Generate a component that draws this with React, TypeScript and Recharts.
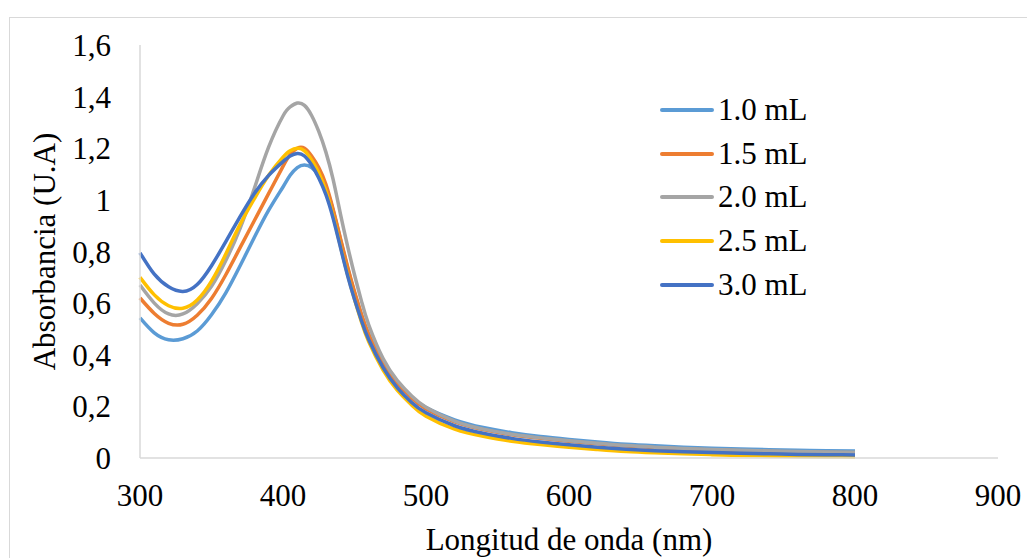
import { Legend, Line, LineChart, XAxis, YAxis } from "recharts";

const WAVELENGTHS = [
  300, 310, 320, 330, 340, 350, 360, 370, 380, 390, 400, 405, 410, 415, 420, 425, 430, 435, 440, 445, 450,
  455, 460, 470, 480, 490, 500, 520, 540, 560, 580, 600, 620, 640, 660, 680, 700, 720, 740, 760, 780, 800,
];

const ML_10 = [
  0.543, 0.485, 0.458, 0.462, 0.492, 0.555, 0.64, 0.745, 0.855, 0.96, 1.05, 1.095, 1.125, 1.135, 1.125, 1.095,
  1.045, 0.96, 0.85, 0.74, 0.64, 0.55, 0.475, 0.365, 0.29, 0.235, 0.195, 0.148, 0.118, 0.098, 0.083, 0.072,
  0.062, 0.053, 0.047, 0.042, 0.038, 0.035, 0.032, 0.03, 0.028, 0.027,
];
const ML_15 = [
  0.62, 0.56, 0.522, 0.518, 0.553, 0.618, 0.71, 0.815, 0.92, 1.025, 1.13, 1.175, 1.2, 1.2, 1.17, 1.125, 1.06,
  0.965, 0.855, 0.745, 0.645, 0.555, 0.48, 0.368, 0.29, 0.232, 0.19, 0.14, 0.11, 0.09, 0.076, 0.065, 0.055,
  0.046, 0.04, 0.035, 0.031, 0.028, 0.025, 0.023, 0.021, 0.02,
];
const ML_20 = [
  0.67, 0.6, 0.558, 0.558, 0.598, 0.665, 0.765, 0.89, 1.045, 1.205, 1.325, 1.36, 1.375, 1.366, 1.327, 1.265,
  1.185, 1.08, 0.95, 0.825, 0.71, 0.605, 0.515, 0.385, 0.3, 0.24, 0.197, 0.143, 0.112, 0.092, 0.078, 0.067,
  0.057, 0.048, 0.042, 0.037, 0.033, 0.03, 0.027, 0.025, 0.023, 0.022,
];
const ML_25 = [
  0.7, 0.632, 0.59, 0.58, 0.612, 0.685, 0.79, 0.905, 1.005, 1.095, 1.165, 1.19, 1.2, 1.19, 1.155, 1.105,
  1.035, 0.94, 0.825, 0.715, 0.615, 0.525, 0.45, 0.34, 0.262, 0.205, 0.162, 0.112, 0.084, 0.065, 0.052, 0.042,
  0.033, 0.025, 0.02, 0.016, 0.013, 0.01, 0.008, 0.006, 0.005, 0.004,
];
const ML_30 = [
  0.795, 0.712, 0.663, 0.645, 0.672, 0.745, 0.838, 0.935, 1.025, 1.095, 1.148, 1.17, 1.18, 1.17, 1.135, 1.085,
  1.02, 0.93, 0.82, 0.71, 0.615, 0.53, 0.458, 0.35, 0.272, 0.215, 0.175, 0.125, 0.096, 0.076, 0.062, 0.051,
  0.042, 0.034, 0.028, 0.024, 0.021, 0.018, 0.016, 0.014, 0.013, 0.012,
];

const X_TICKS = [300, 400, 500, 600, 700, 800, 900];
const Y_TICKS = [0, 0.2, 0.4, 0.6, 0.8, 1, 1.2, 1.4, 1.6];

const SERIES = [
  { key: "m10", name: "1.0 mL", values: ML_10, color: "#5B9BD5" },
  { key: "m15", name: "1.5 mL", values: ML_15, color: "#ED7D31" },
  { key: "m20", name: "2.0 mL", values: ML_20, color: "#A5A5A5" },
  { key: "m25", name: "2.5 mL", values: ML_25, color: "#FFC000" },
  { key: "m30", name: "3.0 mL", values: ML_30, color: "#4472C4" },
];

const data = WAVELENGTHS.map((wl, i) => {
  const row: Record<string, number> = { wl };
  SERIES.forEach((s) => (row[s.key] = s.values[i]));
  return row;
});

const FONT = '"Liberation Serif", "Times New Roman", serif';
const AXIS = "#d9d9d9";

function LegendBox() {
  return (
    <div style={{ fontFamily: FONT, fontSize: 31, color: "#000" }}>
      {SERIES.map((s) => (
        <div key={s.key} style={{ display: "flex", alignItems: "center", height: 43.7 }}>
          <div style={{ width: 54, height: 4, background: s.color, borderRadius: 2, marginRight: 4 }} />
          <span>{s.name}</span>
        </div>
      ))}
    </div>
  );
}

export default function App() {
  return (
    <div style={{ position: "absolute", left: 0, top: 0, width: 1027, height: 558, overflow: "hidden", background: "#fff" }}>
      <div style={{ position: "absolute", left: 9, top: 17, width: 1100, height: 700, border: "1.5px solid #d9d9d9" }} />
      <div style={{ position: "absolute", left: 0, top: 0 }}>
        <LineChart width={1027} height={558} data={data} margin={{ top: 45, right: 29, bottom: 0, left: 0 }}>
          <XAxis
            dataKey="wl"
            type="number"
            domain={[300, 900]}
            ticks={X_TICKS}
            height={100}
            tickSize={0}
            tickMargin={26}
            tickLine={false}
            axisLine={{ stroke: AXIS, strokeWidth: 1.5 }}
            tick={{ fill: "#000", fontSize: 31, fontFamily: FONT }}
            label={{ value: "Longitud de onda (nm)", position: "insideBottom", offset: 8, fill: "#000", fontSize: 31, fontFamily: FONT }}
          />
          <YAxis
            type="number"
            domain={[0, 1.6]}
            ticks={Y_TICKS}
            width={140}
            tickSize={0}
            tickMargin={29}
            tickLine={false}
            axisLine={{ stroke: AXIS, strokeWidth: 1.5 }}
            tickFormatter={(v: number) => String(v).replace(".", ",")}
            tick={{ fill: "#000", fontSize: 31, fontFamily: FONT }}
            label={{ value: "Absorbancia (U.A)", angle: -90, position: "insideLeft", offset: 44, fill: "#000", fontSize: 31, fontFamily: FONT, style: { textAnchor: "middle" } }}
          />
          <Legend
            layout="vertical"
            verticalAlign="middle"
            align="center"
            content={() => <LegendBox />}
            wrapperStyle={{ left: 660, top: 88, width: 200 }}
          />
          {SERIES.map((s) => (
            <Line
              key={s.key}
              dataKey={s.key}
              name={s.name}
              type="natural"
              stroke={s.color}
              strokeWidth={3.5}
              dot={false}
              isAnimationActive={false}
            />
          ))}
        </LineChart>
      </div>
    </div>
  );
}
